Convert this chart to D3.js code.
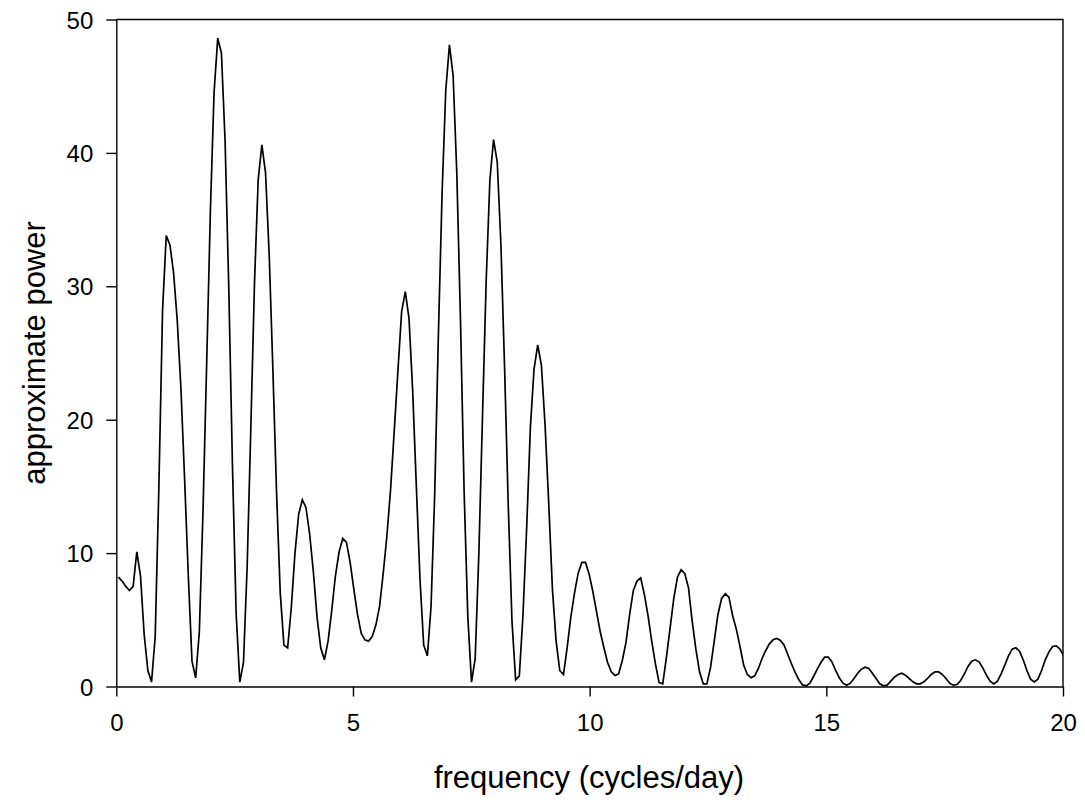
<!DOCTYPE html>
<html>
<head>
<meta charset="utf-8">
<script src="https://cdn.jsdelivr.net/npm/d3@7"></script>
<style>
  html, body { margin: 0; padding: 0; background: #fff; }
  svg { display: block; }
  text { font-family: "Liberation Sans", Arial, Helvetica, sans-serif; fill: #000; }
</style>
</head>
<body>
<div id="chart"></div>
<script>
// ---- data ----
const freqStart = 0.045;     // first sampled frequency (cycles/day)
const freqStep = 0.0777;     // spacing of the periodogram samples
const power = [
  8.2, 7.9, 7.5, 7.2, 7.5, 10.1, 8.3, 3.9, 1.2, 0.33,
  3.75, 15.0, 28.2, 33.8, 33.1, 31.0, 27.4, 22.3, 15.5, 8.3,
  1.9, 0.65, 4.1, 13.2, 24.3, 35.6, 44.5, 48.6, 47.5, 40.9,
  29.9, 16.6, 5.5, 0.33, 1.8, 9.0, 19.4, 30.3, 38.0, 40.6,
  38.5, 32.3, 23.7, 14.5, 7.0, 3.1, 2.9, 5.9, 10.0, 12.9,
  14.0, 13.4, 11.4, 8.6, 5.2, 2.9, 2.0, 3.4, 5.7, 8.3,
  10.1, 11.1, 10.8, 9.3, 7.3, 5.4, 4.0, 3.5, 3.4, 3.75,
  4.6, 6.0, 8.5, 11.3, 14.8, 19.2, 23.7, 28.1, 29.6, 27.6,
  22.2, 15.0, 8.0, 3.1, 2.3, 6.0, 14.5, 26.4, 37.0, 44.7,
  48.1, 45.8, 38.5, 27.5, 14.5, 5.2, 0.33, 2.1, 10.0, 20.4,
  30.5, 38.0, 41.0, 39.3, 33.1, 23.8, 13.5, 4.9, 0.5, 0.8,
  5.4, 11.9, 19.4, 23.8, 25.6, 24.1, 19.6, 13.7, 7.3, 3.4,
  1.2, 0.9, 2.9, 5.2, 7.0, 8.5, 9.3, 9.3, 8.4, 7.1,
  5.6, 4.1, 2.9, 1.8, 1.1, 0.82, 0.95, 1.95, 3.3, 5.4,
  7.2, 7.9, 8.15, 6.9, 5.3, 3.4, 1.7, 0.3, 0.2, 2.2,
  4.4, 6.6, 8.2, 8.75, 8.45, 7.4, 4.9, 2.8, 1.1, 0.2,
  0.2, 1.45, 3.4, 5.4, 6.6, 6.95, 6.7, 5.3, 4.3, 3.0,
  1.6, 0.9, 0.65, 0.8, 1.35, 2.1, 2.7, 3.2, 3.5, 3.6,
  3.45, 3.1, 2.4, 1.7, 1.05, 0.5, 0.12, 0.05, 0.25, 0.75,
  1.3, 1.8, 2.2, 2.2, 1.85, 1.2, 0.65, 0.25, 0.1, 0.25,
  0.6, 1.0, 1.3, 1.45, 1.35, 1.0, 0.6, 0.2, 0.05, 0.1,
  0.4, 0.7, 0.9, 1.0, 0.85, 0.6, 0.35, 0.2, 0.2, 0.35,
  0.6, 0.9, 1.1, 1.1, 0.9, 0.6, 0.25, 0.1, 0.15, 0.45,
  0.95, 1.5, 1.9, 2.0, 1.85, 1.4, 0.85, 0.4, 0.2, 0.4,
  0.95, 1.6, 2.3, 2.8, 2.9, 2.65, 2.0, 1.2, 0.55, 0.35,
  0.55, 1.2, 2.0, 2.6, 3.0, 3.05, 2.8, 2.3
];
const xTicks = [0, 5, 10, 15, 20];
const yTicks = [0, 10, 20, 30, 40, 50];
const xTitle = "frequency (cycles/day)";
const yTitle = "approximate power";

// ---- layout ----
const W = 1085, H = 802;
const mLeft = 116.3, mRight = 1063, mTop = 19.5, mBottom = 686.5;

const svg = d3.select("#chart").append("svg")
  .attr("width", W).attr("height", H)
  .attr("viewBox", `0 0 ${W} ${H}`);
svg.append("rect").attr("width", W).attr("height", H).attr("fill", "#fff");

const x = d3.scaleLinear().domain([0, 20]).range([mLeft, mRight]);
const y = d3.scaleLinear().domain([0, 50]).range([mBottom, mTop]);

svg.append("defs").append("clipPath").attr("id", "plotclip")
  .append("rect").attr("x", mLeft).attr("y", mTop - 2)
  .attr("width", mRight - mLeft).attr("height", mBottom - mTop + 4);

// frame (top and right borders)
svg.append("path")
  .attr("d", `M${mLeft},${mTop}H${mRight}V${mBottom}`)
  .attr("fill", "none").attr("stroke", "#000").attr("stroke-width", 1.4);

// x axis
const gx = svg.append("g")
  .attr("transform", `translate(0,${mBottom})`)
  .call(d3.axisBottom(x).tickValues(xTicks).tickFormat(d3.format("d"))
    .tickSize(10).tickSizeOuter(0).tickPadding(17));
// y axis
const gy = svg.append("g")
  .attr("transform", `translate(${mLeft},0)`)
  .call(d3.axisLeft(y).tickValues(yTicks).tickFormat(d3.format("d"))
    .tickSize(10).tickSizeOuter(0).tickPadding(13));

[gx, gy].forEach(g => {
  g.select(".domain").attr("stroke", "#000").attr("stroke-width", 1.4);
  g.selectAll(".tick line").attr("stroke", "#000").attr("stroke-width", 1.4);
  g.selectAll(".tick text")
    .attr("font-family", '"Liberation Sans", Arial, sans-serif')
    .attr("font-size", 24).attr("fill", "#000");
});
gy.selectAll(".tick text").attr("dy", "0.36em");

// series line
const pts = power.map((v, i) => ({ f: freqStart + i * freqStep, v }));
const line = d3.line().x(d => x(d.f)).y(d => y(d.v));
svg.append("path")
  .datum(pts)
  .attr("clip-path", "url(#plotclip)")
  .attr("d", line)
  .attr("fill", "none")
  .attr("stroke", "#000")
  .attr("stroke-width", 1.7)
  .attr("stroke-linejoin", "miter");

// axis titles
svg.append("text")
  .attr("x", 589).attr("y", 788)
  .attr("text-anchor", "middle")
  .attr("font-size", 31)
  .text(xTitle);
svg.append("text")
  .attr("transform", `translate(45,${(mTop + mBottom) / 2}) rotate(-90)`)
  .attr("text-anchor", "middle")
  .attr("font-size", 31)
  .text(yTitle);
</script>
</body>
</html>
